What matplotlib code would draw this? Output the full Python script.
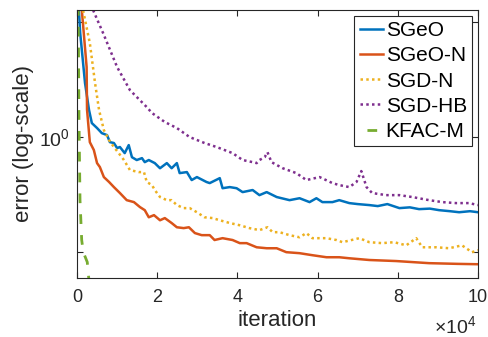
import matplotlib
matplotlib.use("Agg")
import matplotlib.pyplot as plt
from matplotlib.ticker import FixedLocator, FixedFormatter, NullLocator

plt.rcParams['font.family'] = ['Liberation Sans', 'DejaVu Sans']
plt.rcParams['mathtext.fontset'] = 'custom'
plt.rcParams['mathtext.rm'] = 'Liberation Sans'
plt.rcParams['mathtext.it'] = 'Liberation Sans:italic'
plt.rcParams['mathtext.bf'] = 'Liberation Sans:bold'

# ---------------- data ----------------
sgeo_x = [0, 800, 2000, 3000, 3700, 5000, 6200, 7500, 8200, 9200, 10000, 10700,
          11900, 12900, 13700, 14900, 16200, 16900, 17900, 19400, 20700, 22400,
          23600, 24900, 25600, 27400, 28600, 29900, 32300, 33100, 35600, 36300,
          38100, 39800, 41300, 43800, 45500, 47300, 49800, 53000, 55500, 58000,
          59700, 61200, 63700, 65400, 67900, 70000, 72900, 75000, 77400, 80400,
          83000, 85300, 88000, 90300, 93000, 95300, 98000, 100000]
sgeo_y = [2.6, 1.87, 1.385, 1.177, 1.088, 1.056, 1.024, 1.012, 0.970, 0.965, 0.936, 0.942,
          0.908, 0.953, 0.886, 0.871, 0.881, 0.860, 0.871, 0.855, 0.829, 0.855,
          0.829, 0.855, 0.805, 0.810, 0.772, 0.786, 0.763, 0.758, 0.781, 0.735,
          0.740, 0.735, 0.718, 0.727, 0.705, 0.718, 0.697, 0.684, 0.692, 0.676,
          0.692, 0.676, 0.676, 0.684, 0.672, 0.668, 0.664, 0.660, 0.668, 0.652,
          0.655, 0.648, 0.650, 0.644, 0.640, 0.636, 0.640, 0.636]

sgeon_x = [0, 1200, 2400, 2500, 3200, 4200, 5000, 5700, 6700, 8000, 9200, 10700,
           12400, 14200, 15700, 16900, 17900, 19200, 20700, 21900, 23600, 24900,
           26600, 27900, 29400, 31100, 33100, 34300, 36300, 38800, 40600, 42300,
           44800, 47300, 49800, 52200, 55500, 58700, 62200, 65400, 67900, 72900,
           79600, 87800, 95000, 100000]
sgeon_y = [3.0, 2.15, 1.525, 1.18, 0.97, 0.925, 0.855, 0.835, 0.786, 0.763, 0.740, 0.714,
           0.684, 0.676, 0.656, 0.644, 0.617, 0.625, 0.606, 0.614, 0.596, 0.581,
           0.578, 0.581, 0.561, 0.554, 0.554, 0.538, 0.544, 0.538, 0.528, 0.528,
           0.515, 0.512, 0.512, 0.500, 0.497, 0.491, 0.485, 0.485, 0.482, 0.477,
           0.474, 0.468, 0.466, 0.465]

sgdn_x = [0, 1500, 3200, 4500, 5500, 6700, 8000, 9200, 10400, 11700, 13200, 15400,
          16700, 17400, 18700, 19400, 20700, 22400, 23600, 24900, 26600, 28100,
          29900, 31800, 33800, 35600, 38100, 40600, 43000, 45500, 47500, 48800,
          50500, 53000, 55500, 57200, 58700, 62200, 64700, 66200, 70400, 72900,
          76100, 79100, 82100, 84600, 86100, 89600, 92800, 96000, 98500, 100000]
sgdn_y = [3.2, 2.15, 1.762, 1.385, 1.177, 1.043, 0.982, 0.942, 0.908, 0.871, 0.820, 0.810,
          0.810, 0.763, 0.749, 0.727, 0.697, 0.684, 0.684, 0.664, 0.652, 0.652,
          0.636, 0.617, 0.614, 0.606, 0.596, 0.588, 0.578, 0.571, 0.581, 0.564,
          0.564, 0.554, 0.547, 0.561, 0.544, 0.544, 0.538, 0.531, 0.544, 0.531,
          0.528, 0.531, 0.521, 0.544, 0.515, 0.515, 0.512, 0.521, 0.500, 0.506]

sgdhb_x = [2000, 4000, 6500, 10000, 13200, 17400, 18700, 21900, 24900, 28100, 31800,
           34800, 38800, 41300, 43800, 44800, 45500, 46800, 47500, 48500, 51300,
           54700, 57200, 60500, 63700, 65400, 67900, 69700, 70900, 72200, 73600,
           77100, 80400, 83600, 87800, 91100, 94500, 97800, 100000]
sgdhb_y = [2.6, 2.15, 1.872, 1.525, 1.327, 1.198, 1.156, 1.095, 1.056, 1.0, 0.965,
           0.942, 0.908, 0.871, 0.860, 0.855, 0.871, 0.886, 0.913, 0.860, 0.829,
           0.805, 0.772, 0.786, 0.758, 0.749, 0.740, 0.763, 0.815, 0.740, 0.714,
           0.705, 0.705, 0.697, 0.684, 0.676, 0.672, 0.672, 0.664]

kfac_x = [0, 300, 500, 750, 1170, 1570, 2560, 3200]
kfac_y = [3.0, 2.15, 1.108, 0.684, 0.538, 0.500, 0.471, 0.398]

labels = ['SGeO', 'SGeO-N', 'SGD-N', 'SGD-HB', 'KFAC-M']
xtick_vals = [0, 20000, 40000, 60000, 80000, 100000]
xtick_labels = ['0', '2', '4', '6', '8', '10']
ytick_vals = [0.5, 1.0, 2.0]
ytick_labels = ['', r'$\mathregular{10^{0}}$', '']

# ---------------- figure ----------------
fig = plt.figure(figsize=(4.88, 3.37), dpi=100)
ax = fig.add_axes([77/488, 59/337, 401/488, 268/337])

c_blue = '#0072BD'
c_orange = '#D95319'
c_yellow = '#EDB120'
c_purple = '#7E2F8E'
c_green = '#77AC30'

ax.plot(sgeo_x, sgeo_y, color=c_blue, lw=1.8, label=labels[0])
ax.plot(sgeon_x, sgeon_y, color=c_orange, lw=1.8, label=labels[1])
ax.plot(sgdn_x, sgdn_y, color=c_yellow, lw=1.8, linestyle=(0, (1, 1.3)),
        label=labels[2])
ax.plot(sgdhb_x, sgdhb_y, color=c_purple, lw=1.8, linestyle=(0, (1, 1.3)),
        label=labels[3])
ax.plot(kfac_x, kfac_y, color=c_green, lw=2.0, linestyle=(5, (3.5, 4)),
        label=labels[4])

ax.set_yscale('log')
ax.set_xlim(0, 100000)
ax.set_ylim(0.428, 2.15)

ax.xaxis.set_major_locator(FixedLocator(xtick_vals))
ax.xaxis.set_major_formatter(FixedFormatter(xtick_labels))
ax.yaxis.set_major_locator(FixedLocator(ytick_vals))
ax.yaxis.set_major_formatter(FixedFormatter(ytick_labels))
ax.yaxis.set_minor_locator(NullLocator())
ax.xaxis.set_minor_locator(NullLocator())

dark = '#262626'
for s in ax.spines.values():
    s.set_color(dark)
    s.set_linewidth(0.8)
ax.tick_params(axis='both', which='both', direction='in', length=4, width=0.8,
               color=dark, labelcolor=dark, labelsize=13, top=True, right=True)
ax.tick_params(axis='x', pad=8)
ax.tick_params(axis='y', pad=5, labelsize=14)

ax.set_xlabel('iteration', fontsize=16, color=dark, labelpad=3)
ax.set_ylabel('error (log-scale)', fontsize=16, color=dark, labelpad=4)

ax.text(0.995, -0.205, r'$\mathregular{\times10^{4}}$', transform=ax.transAxes,
        ha='right', va='baseline', fontsize=14, color=dark)

leg = ax.legend(loc='upper right', fontsize=15, frameon=True, fancybox=False,
                framealpha=1, edgecolor=dark, handlelength=1.1, handletextpad=0.15,
                labelspacing=0.3, borderpad=0.25, borderaxespad=0.28)
leg.get_frame().set_linewidth(0.8)

fig.savefig('out.png', dpi=100)
